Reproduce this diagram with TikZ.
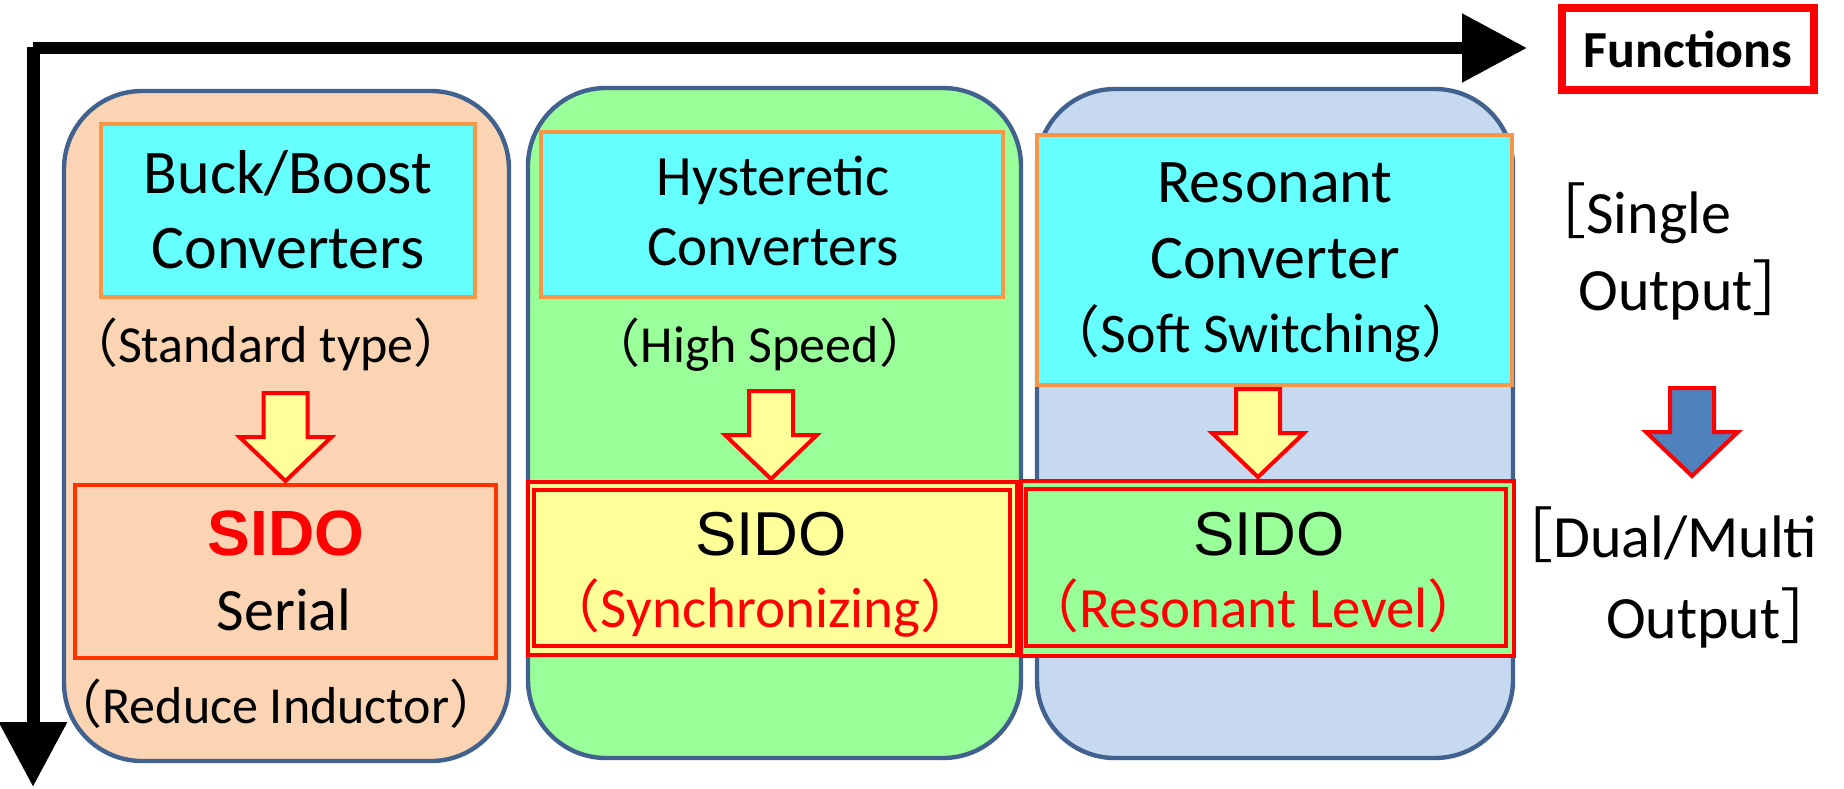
\documentclass[tikz,border=0pt]{standalone}
\usepackage{fontspec}
\setmainfont{Carlito}
\newfontfamily\cjkfont{Noto Sans CJK JP}
\newfontfamily\sidofont{Liberation Sans}
\usetikzlibrary{arrows.meta,fit}

\definecolor{peach}{HTML}{FBD4B4}
\definecolor{mint}{HTML}{99FF99}
\definecolor{paleblue}{HTML}{C6D9F1}
\definecolor{aqua}{HTML}{66FFFF}
\definecolor{tangerine}{HTML}{F79646}
\definecolor{lemon}{HTML}{FFFF99}
\definecolor{vermilion}{HTML}{FF3300}
\definecolor{pureRed}{HTML}{FF0000}
\definecolor{steel}{HTML}{4F81BD}
\definecolor{navyedge}{HTML}{41618F}

% full-width brackets, trimmed to sit close to the word
\newcommand\lpar{\hspace{-0.5em}{\cjkfont （}}
\newcommand\rpar{{\cjkfont ）}\hspace{-0.5em}}
\newcommand\lbrk{\hspace{-0.5em}{\cjkfont ［}}
\newcommand\rbrk{{\cjkfont ］}\hspace{-0.5em}}
\newcommand\fsz[1]{\fontsize{#1pt}{#1pt}\selectfont}

\begin{document}
\begin{tikzpicture}[x=0.5pt,y=-0.5pt,
  column/.style={draw=navyedge, line width=2.2pt, rounded corners=39pt, inner sep=0pt},
  typebox/.style={draw=tangerine, fill=aqua, line width=2.2pt, inner sep=0pt},
  sidobox/.style={draw=pureRed, line width=2pt, inner sep=0pt},
  txt/.style={inner sep=0pt, anchor=base},
  pics/downarrow/.style={code={
    \draw[line width=2pt, draw=pureRed, fill=#1, line join=miter]
      (-22,0) -- (22,0) -- (22,44) -- (46,44) -- (0,88) -- (-46,44) -- (-22,44) -- cycle;
  }}]
\useasboundingbox (0,0) rectangle (1844,788);

% axes
\coordinate (hx0) at (33,48);
\coordinate (hx1) at (1527,48);
\coordinate (vy0) at (33,47);
\coordinate (vy1) at (33,787);
\draw[line width=6pt, -{Triangle[length=32.5pt,width=33pt]}] (hx0) -- (hx1);
\draw[line width=6.5pt, -{Triangle[length=32.5pt,width=32.5pt]}] (vy0) -- (vy1);

% axis label
\node[draw=pureRed, line width=4pt, inner sep=0pt, fit={(1562,8) (1814,90)}] (fnbox) {};
\node[inner sep=0pt, font=\fsz{26}\bfseries] (fn) at (fnbox.center) {Functions};

% three columns
\node[column, fill=peach, fit={(64,91) (509,761)}] (col1) {};
\node[column, fill=mint, fit={(528,88) (1021,758)}] (col2) {};
\node[column, fill=paleblue, fit={(1037,89) (1513,758)}] (col3) {};

% single-output converter types
\node[typebox, fit={(101,124) (475,297)}] (type1) {};
\node[typebox, fit={(541,132) (1003,297)}] (type2) {};
\node[typebox, fit={(1037,135) (1512,385)}] (type3) {};

% SIDO variants
\node[draw=vermilion, line width=2.2pt, inner sep=0pt, fit={(75,485) (496,658)}] (sido1) {};
\node[sidobox, fill=lemon, fit={(528,482) (1017,655)}] (sido2o) {};
\node[sidobox, fill=lemon, fit={(534,490) (1010,646)}] (sido2) {};
\node[sidobox, fill=mint, fit={(1021,481) (1514,656)}] (sido3o) {};
\node[sidobox, fill=mint, fit={(1026,489) (1506,646)}] (sido3) {};

% block arrows
\pic at (285.5,393) {downarrow=lemon};
\pic at (771,391) {downarrow=lemon};
\pic at (1258,389) {downarrow=lemon};
\pic at (1692,388) {downarrow=steel};

% column 1 text
\node[txt, font=\fsz{31}] (t1a) at (288,193) {Buck/Boost};
\node[txt, font=\fsz{31}] (t1b) at (288,268) {Converters};
\node[txt, font=\fsz{26}] (t1c) at (279,362) {\lpar Standard type\rpar};
\node[txt, font=\sidofont\bfseries\fsz{32}, text=pureRed] (s1a) at (286,555) {SIDO};
\node[txt, font=\fsz{30}] (s1b) at (284,630) {Serial};
\node[txt, font=\fsz{26}] (s1c) at (289,723) {\lpar Reduce Inductor\rpar};

% column 2 text
\node[txt, font=\fsz{28.5}] (t2a) at (773,195) {Hysteretic};
\node[txt, font=\fsz{28.5}] (t2b) at (773,265) {Converters};
\node[txt, font=\fsz{26}] (t2c) at (773,362) {\lpar High Speed\rpar};
\node[txt, font=\sidofont\fsz{31}] (s2a) at (771,555) {SIDO};
\node[txt, font=\fsz{28.5}, text=pureRed] (s2b) at (775,627) {\lpar Synchronizing\rpar};

% column 3 text
\node[txt, font=\fsz{31}] (t3a) at (1275,202) {Resonant};
\node[txt, font=\fsz{31}] (t3b) at (1275,278) {Converter};
\node[txt, font=\fsz{28}] (t3c) at (1275,352) {\lpar Soft Switching\rpar};
\node[txt, font=\sidofont\fsz{31}] (s3a) at (1269,555) {SIDO};
\node[txt, font=\fsz{28.5}, text=pureRed] (s3b) at (1268,627) {\lpar Resonant Level\rpar};

% output-count labels
\node[inner sep=0pt, anchor=base west, font=\fsz{30}] (so1) at (1556,233) {\lbrk Single};
\node[inner sep=0pt, anchor=base west, font=\fsz{30}] (so2) at (1578,310) {Output\rbrk};
\node[inner sep=0pt, anchor=base west, font=\fsz{30}] (mo1) at (1523,557) {\lbrk Dual/Multi};
\node[inner sep=0pt, anchor=base east, font=\fsz{30}] (mo2) at (1841,638) {Output\rbrk};
\end{tikzpicture}
\end{document}
